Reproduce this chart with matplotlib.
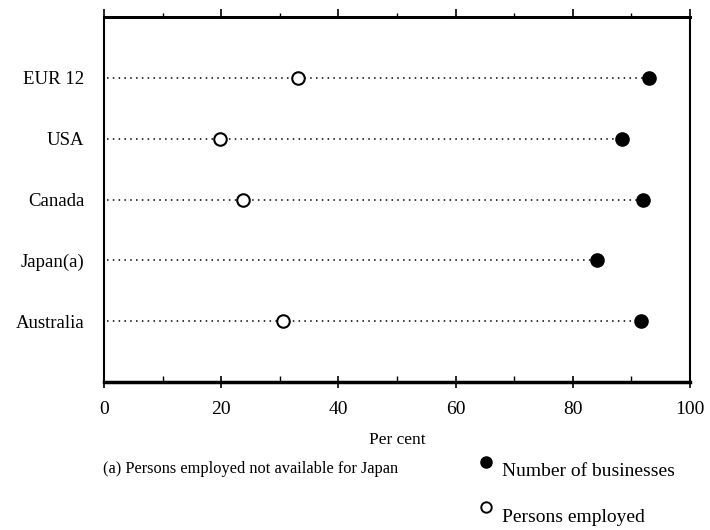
import matplotlib
matplotlib.use('Agg')
import matplotlib.pyplot as plt
from matplotlib.lines import Line2D
from matplotlib.ticker import MultipleLocator

plt.rcParams['font.family'] = ['Liberation Serif', 'DejaVu Serif']

# share of small businesses, per cent
countries = ['EUR 12', 'USA', 'Canada', 'Japan(a)', 'Australia']
businesses = [93.0, 88.4, 92.0, 84.1, 91.6]
employed = [33.1, 19.8, 23.7, None, 30.5]

fig = plt.figure(figsize=(7.1, 5.3), dpi=100)
ax = fig.add_axes([0.1465, 0.2792, 0.8253, 0.6887])

n = len(countries)
ypos = [n - i for i in range(n)]

for y, b, e in zip(ypos, businesses, employed):
    # dotted guide from the left edge out to the business share
    ax.plot([0.5, b], [y, y], color='black', lw=1.1,
            linestyle=(0, (1, 2.8)), zorder=1)
    ax.plot(b, y, 'o', color='black', ms=9.5, zorder=3)
    if e is not None:
        ax.plot(e, y, 'o', mfc='white', mec='black', mew=1.5, ms=9, zorder=3)

ax.set_xlim(0, 100)
ax.set_ylim(0, n + 1)
ax.set_yticks(ypos)
ax.set_yticklabels(countries, fontsize=13.5)
ax.tick_params(axis='y', length=0, pad=14)

ax.xaxis.set_major_locator(MultipleLocator(20))
ax.xaxis.set_minor_locator(MultipleLocator(10))
ax.tick_params(axis='x', which='major', direction='inout', length=8,
               width=1.2, labelsize=14, pad=10)
ax.tick_params(axis='x', which='minor', direction='in', length=4, width=1)
ax.set_xlabel('Per cent', fontsize=12.5, labelpad=10)

# ticks along the top edge point outwards
top = ax.secondary_xaxis('top')
top.xaxis.set_major_locator(MultipleLocator(20))
top.xaxis.set_minor_locator(MultipleLocator(10))
top.tick_params(which='major', direction='out', length=6, width=1.2,
                labeltop=False)
top.tick_params(which='minor', direction='out', length=3, width=1)
top.spines['top'].set_linewidth(2)

ax.spines['top'].set_linewidth(2)
ax.spines['bottom'].set_linewidth(2.5)
ax.spines['left'].set_linewidth(1.5)
ax.spines['right'].set_linewidth(1.5)

fig.text(103 / 710, 1 - 469 / 530, '(a) Persons employed not available for Japan',
         fontsize=11.8, va='center', ha='left')

# key for the two marker types
fig.add_artist(Line2D([486 / 710], [1 - 462 / 530], transform=fig.transFigure,
                      marker='o', color='black', ms=8, ls='none'))
fig.add_artist(Line2D([486 / 710], [1 - 507 / 530], transform=fig.transFigure,
                      marker='o', mfc='white', mec='black', mew=1.4, ms=7.5,
                      ls='none'))
fig.text(502 / 710, 1 - 471 / 530, 'Number of businesses', fontsize=14,
         va='center', ha='left')
fig.text(502 / 710, 1 - 517 / 530, 'Persons employed', fontsize=14,
         va='center', ha='left')

fig.savefig('out.png', dpi=100, facecolor='white')
